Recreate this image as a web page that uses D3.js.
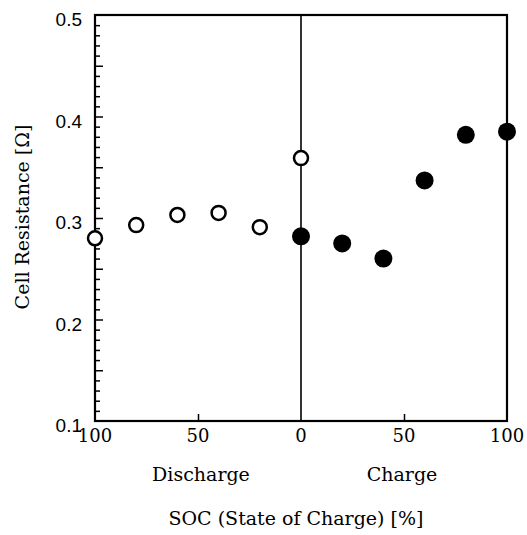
<!DOCTYPE html>
<html>
<head>
<meta charset="utf-8">
<script src="https://cdn.jsdelivr.net/npm/d3@7"></script>
<style>
  body { margin: 0; background: #fff; }
  svg { display: block; }
</style>
</head>
<body>
<div id="chart"></div>
<script>
// SOC values, discharge side is stored as negative so one scale covers both halves
var dischargeSoc = [100, 80, 60, 40, 20, 0];
var dischargeRes = [0.280, 0.293, 0.303, 0.305, 0.291, 0.359];
var chargeSoc = [0, 20, 40, 60, 80, 100];
var chargeRes = [0.282, 0.275, 0.260, 0.337, 0.382, 0.385];
var xTickLabels = [-100, -50, 0, 50, 100];
var yTickLabels = [0.1, 0.2, 0.3, 0.4, 0.5];

var width = 527, height = 535;
// plot box edges (window.top is reserved, so no bare "top")
var plot = {left: 95, right: 507, top: 15, bottom: 421};

var svg = d3.select("#chart").append("svg")
    .attr("width", width)
    .attr("height", height);

var x = d3.scaleLinear().domain([-100, 100]).range([plot.left, plot.right]);
var y = d3.scaleLinear().domain([0.1, 0.5]).range([plot.bottom, plot.top]);

// minor ticks every 0.01, longer every 0.05, pointing into the plot
var minor = d3.range(11, 50).map(function(d) { return d / 100; }).filter(function(d) { return Math.round(d * 100) % 5 != 0; });
var major = d3.range(3, 10).map(function(d) { return d * 0.05; });

svg.append("g")
    .attr("transform", "translate(" + plot.left + ",0)")
    .call(d3.axisRight(y).tickValues(minor).tickSize(5).tickFormat(""))
    .call(function(g) { g.select(".domain").remove(); })
    .selectAll("line").attr("stroke", "#000").attr("stroke-width", 1.5);

svg.append("g")
    .attr("transform", "translate(" + plot.left + ",0)")
    .call(d3.axisRight(y).tickValues(major).tickSize(8).tickFormat(""))
    .call(function(g) { g.select(".domain").remove(); })
    .selectAll("line").attr("stroke", "#000").attr("stroke-width", 1.5);

svg.append("g")
    .attr("transform", "translate(0," + plot.bottom + ")")
    .call(d3.axisTop(x).tickValues([-50, 50]).tickSize(7).tickFormat(""))
    .call(function(g) { g.select(".domain").remove(); })
    .selectAll("line").attr("stroke", "#000").attr("stroke-width", 1.5);

// frame and the 0 % divider
svg.append("rect")
    .attr("x", plot.left).attr("y", plot.top)
    .attr("width", plot.right - plot.left).attr("height", plot.bottom - plot.top)
    .attr("fill", "none").attr("stroke", "#000").attr("stroke-width", 2.2);

svg.append("line")
    .attr("x1", x(0)).attr("x2", x(0))
    .attr("y1", plot.top).attr("y2", plot.bottom)
    .attr("stroke", "#000").attr("stroke-width", 1.6);

// tick labels
svg.selectAll(".ylab")
    .data(yTickLabels)
    .enter().append("text")
    .attr("class", "ylab")
    .attr("x", plot.left - 13)
    .attr("y", function(d) { return y(d) + 11; })
    .attr("text-anchor", "end")
    .style("font-family", "'Liberation Sans', Arial, sans-serif")
    .style("font-size", "19px")
    .text(function(d) { return d3.format(".1f")(d); });

var serif = "'DejaVu Serif', serif";

svg.selectAll(".xlab")
    .data(xTickLabels)
    .enter().append("text")
    .attr("class", "xlab")
    .attr("x", function(d) { return x(d); })
    .attr("y", 442)
    .attr("text-anchor", "middle")
    .style("font-family", serif)
    .style("font-size", "18px")
    .text(function(d) { return Math.abs(d); });

svg.append("text")
    .attr("x", 201).attr("y", 481)
    .attr("text-anchor", "middle")
    .style("font-family", serif).style("font-size", "19px")
    .text("Discharge");

svg.append("text")
    .attr("x", 402).attr("y", 481)
    .attr("text-anchor", "middle")
    .style("font-family", serif).style("font-size", "19px")
    .text("Charge");

svg.append("text")
    .attr("x", 296).attr("y", 525)
    .attr("text-anchor", "middle")
    .style("font-family", serif).style("font-size", "19px")
    .text("SOC (State of Charge) [%]");

svg.append("text")
    .attr("transform", "translate(29,217) rotate(-90)")
    .attr("text-anchor", "middle")
    .style("font-family", serif).style("font-size", "19px")
    .text("Cell Resistance [\u03A9]");

// data points
var discharge = dischargeSoc.map(function(s, i) { return { soc: -s, r: dischargeRes[i] }; });
var charge = chargeSoc.map(function(s, i) { return { soc: s, r: chargeRes[i] }; });

svg.selectAll(".open")
    .data(discharge)
    .enter().append("circle")
    .attr("class", "open")
    .attr("cx", function(d) { return x(d.soc); })
    .attr("cy", function(d) { return y(d.r); })
    .attr("r", 7)
    .attr("fill", "#fff")
    .attr("stroke", "#000")
    .attr("stroke-width", 2.5);

svg.selectAll(".filled")
    .data(charge)
    .enter().append("circle")
    .attr("class", "filled")
    .attr("cx", function(d) { return x(d.soc); })
    .attr("cy", function(d) { return y(d.r); })
    .attr("r", 9)
    .attr("fill", "#000");
</script>
</body>
</html>
